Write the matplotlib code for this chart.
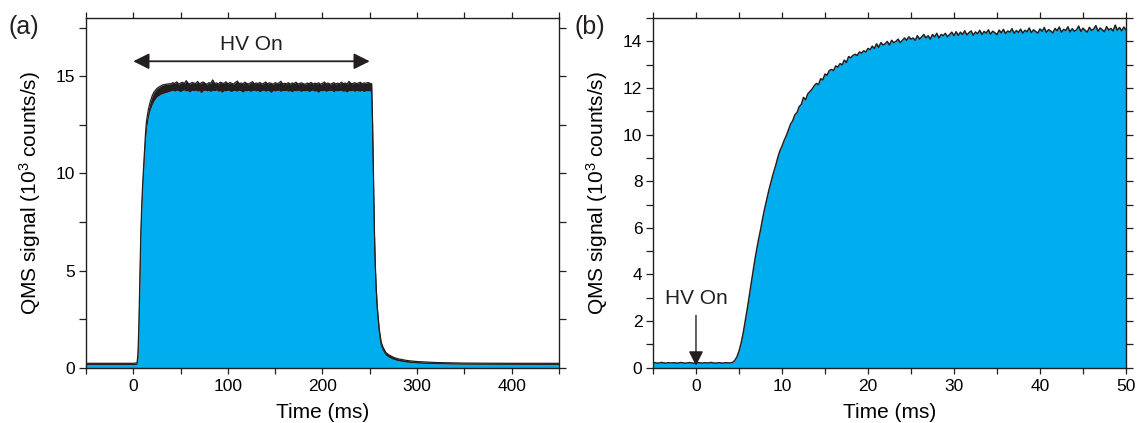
import numpy as np
import matplotlib
matplotlib.use("Agg")
import matplotlib.pyplot as plt
from matplotlib.ticker import MultipleLocator

plt.rcParams['font.family'] = ['Liberation Sans', 'DejaVu Sans']
plt.rcParams['mathtext.fontset'] = 'custom'
plt.rcParams['mathtext.rm'] = 'Liberation Sans'
plt.rcParams['mathtext.it'] = 'Liberation Sans:italic'

FILL = '#00AEEF'
INK = '#231F20'

# ---- (a) full HV pulse: lower / upper envelope of the noisy trace (10^3 counts/s)
# onset: baseline and rise (time in ms)
t_a_rise = [-50, -20, 0, 4, 5, 6, 7, 8, 9, 10, 11, 12, 13, 14, 16, 18, 20, 22, 25, 28, 31, 35, 38]
lo_a_rise = [0.16, 0.16, 0.16, 0.17, 0.55, 2.10, 4.40, 6.70, 8.20, 9.30, 10.20, 11.10, 11.80,
             12.35, 12.95, 13.30, 13.55, 13.75, 13.95, 14.05, 14.12, 14.18, 14.22]
hi_a_rise = [0.22, 0.22, 0.22, 0.24, 0.70, 2.30, 4.60, 6.90, 8.40, 9.50, 10.40, 11.35, 12.10,
             12.70, 13.30, 13.70, 14.00, 14.20, 14.38, 14.48, 14.56, 14.60, 14.62]
# HV on: plateau sampled every 2 ms from 40 ms
t0_a_plat = 40.0
dt_a_plat = 2.0
lo_a_plat = [14.26, 14.29, 14.24, 14.30, 14.27, 14.22, 14.28, 14.31, 14.25, 14.27,
             14.20, 14.29, 14.26, 14.30, 14.24, 14.28, 14.16, 14.27, 14.30, 14.25,
             14.28, 14.23, 14.29, 14.26, 14.31, 14.24, 14.27, 14.18, 14.28, 14.25,
             14.30, 14.26, 14.22, 14.29, 14.27, 14.24, 14.30, 14.26, 14.19, 14.28,
             14.25, 14.29, 14.23, 14.27, 14.30, 14.25, 14.28, 14.21, 14.27, 14.29,
             14.24, 14.28, 14.26, 14.17, 14.29, 14.25, 14.27, 14.30, 14.23, 14.28,
             14.26, 14.29, 14.24, 14.27, 14.20, 14.28, 14.25, 14.30, 14.26, 14.23,
             14.28, 14.25, 14.29, 14.22, 14.27, 14.30, 14.24, 14.26, 14.18, 14.28,
             14.25, 14.29, 14.23, 14.27, 14.26, 14.30, 14.21, 14.28, 14.25, 14.27,
             14.29, 14.24, 14.26, 14.19, 14.28, 14.25, 14.30, 14.23, 14.27, 14.26,
             14.24, 14.29, 14.22, 14.27, 14.25, 14.28]
hi_a_plat = [14.62, 14.68, 14.64, 14.72, 14.60, 14.66, 14.70, 14.63, 14.78, 14.65,
             14.61, 14.69, 14.66, 14.63, 14.74, 14.62, 14.67, 14.71, 14.64, 14.60,
             14.68, 14.65, 14.82, 14.63, 14.67, 14.61, 14.70, 14.66, 14.64, 14.72,
             14.62, 14.68, 14.65, 14.60, 14.69, 14.76, 14.63, 14.66, 14.62, 14.70,
             14.64, 14.61, 14.67, 14.73, 14.62, 14.66, 14.63, 14.69, 14.60, 14.65,
             14.71, 14.62, 14.67, 14.64, 14.60, 14.68, 14.63, 14.66, 14.75, 14.61,
             14.65, 14.62, 14.68, 14.60, 14.66, 14.63, 14.70, 14.61, 14.64, 14.67,
             14.62, 14.60, 14.66, 14.63, 14.69, 14.61, 14.65, 14.62, 14.67, 14.60,
             14.64, 14.71, 14.62, 14.66, 14.60, 14.63, 14.68, 14.61, 14.65, 14.62,
             14.70, 14.63, 14.66, 14.61, 14.74, 14.64, 14.62, 14.68, 14.63, 14.66,
             14.70, 14.62, 14.67, 14.64, 14.69, 14.65]
# HV off: fall and decay back to baseline
t_a_fall = [252, 253, 254, 255, 256, 257, 258, 260, 262, 264, 267, 270, 275, 280, 290,
            300, 320, 350, 400, 450]
lo_a_fall = [14.20, 12.30, 9.30, 6.60, 4.85, 3.70, 2.90, 1.80, 1.15, 0.90, 0.66, 0.55,
             0.43, 0.36, 0.28, 0.24, 0.20, 0.18, 0.17, 0.16]
hi_a_fall = [14.62, 12.60, 9.60, 6.90, 5.10, 3.95, 3.10, 2.00, 1.32, 1.05, 0.78, 0.66,
             0.53, 0.45, 0.36, 0.31, 0.26, 0.23, 0.22, 0.22]

# ---- (b) onset detail: trace sampled every 0.25 ms starting at -5 ms
t0_b = -5.0
dt_b = 0.25
sig_b_base = [0.20, 0.21, 0.19, 0.20, 0.22, 0.20, 0.19, 0.21, 0.20, 0.20,
              0.21, 0.19, 0.20, 0.22, 0.20, 0.19, 0.20, 0.21, 0.20, 0.19,
              0.20, 0.21, 0.20, 0.19, 0.21, 0.20, 0.20, 0.22, 0.20, 0.19,
              0.20, 0.21, 0.19, 0.20, 0.21, 0.20, 0.20, 0.22]
sig_b_rise = [0.30, 0.45, 0.70, 1.05, 1.50, 2.05, 2.60, 3.20, 3.80, 4.40,
              4.95, 5.45, 5.90, 6.40, 6.85, 7.25, 7.65, 8.00, 8.35, 8.65,
              9.00, 9.30, 9.50, 9.75, 9.95, 10.20, 10.45, 10.60, 10.85, 10.95,
              11.20, 11.30, 11.60, 11.50, 11.75, 11.85, 11.95, 12.10, 12.20, 12.15,
              12.40, 12.35, 12.60, 12.55, 12.75, 12.80, 12.75, 12.95, 12.90, 13.05,
              13.00, 13.20, 13.10, 13.35, 13.30, 13.40, 13.45, 13.40, 13.55, 13.50,
              13.60, 13.55, 13.70, 13.65, 13.80, 13.70, 13.90, 13.75, 13.95, 13.85,
              13.90, 14.00, 13.85, 14.05, 13.95, 14.00, 14.10, 13.95, 14.05, 14.15,
              14.05, 14.20, 14.10, 14.15, 14.05, 14.25, 14.10, 14.20, 14.30, 14.15,
              14.25, 14.10, 14.30, 14.20, 14.35, 14.15, 14.30, 14.25, 14.35, 14.20,
              14.30, 14.40, 14.25]
sig_b_plateau = [14.42, 14.26, 14.40, 14.30, 14.46, 14.28, 14.38, 14.45, 14.27, 14.41,
                 14.33, 14.48, 14.30, 14.43, 14.36, 14.50, 14.31, 14.44, 14.38, 14.29,
                 14.49, 14.37, 14.52, 14.34, 14.45, 14.40, 14.55, 14.35, 14.47, 14.39,
                 14.53, 14.36, 14.48, 14.42, 14.58, 14.38, 14.50, 14.43, 14.36, 14.54,
                 14.44, 14.60, 14.39, 14.51, 14.45, 14.37, 14.56, 14.46, 14.62, 14.40,
                 14.52, 14.47, 14.63, 14.41, 14.55, 14.44, 14.50, 14.66, 14.43, 14.57,
                 14.48, 14.40, 14.61, 14.47, 14.54, 14.68, 14.44, 14.58, 14.50, 14.42,
                 14.64, 14.49, 14.56, 14.45, 14.70, 14.48, 14.60, 14.46, 14.62, 14.50]

t_a = np.concatenate([t_a_rise,
                      t0_a_plat + dt_a_plat * np.arange(len(lo_a_plat)),
                      t_a_fall]).astype(float)
lo_a = np.array(lo_a_rise + lo_a_plat + lo_a_fall)
hi_a = np.array(hi_a_rise + hi_a_plat + hi_a_fall)

sig_b = np.array(sig_b_base + sig_b_rise + sig_b_plateau)
t_b = t0_b + dt_b * np.arange(len(sig_b))

fig = plt.figure(figsize=(11.37, 4.23), dpi=100)
ax_a = fig.add_axes([0.0756, 0.131, 0.4160, 0.826])
ax_b = fig.add_axes([0.5743, 0.131, 0.4160, 0.826])

TICK_FS = 12.5
LABEL_FS = 15


def style_axes(ax):
    ax.tick_params(which='both', direction='out', top=True, right=True,
                   labelsize=TICK_FS, color=INK, width=0.9)
    ax.tick_params(axis='x', which='both', length=4.2, pad=4.2)
    ax.tick_params(axis='y', which='both', length=5.0, pad=2.6)
    for s in ax.spines.values():
        s.set_linewidth(1.0)
        s.set_color(INK)
    ax.set_xlabel('Time (ms)', fontsize=LABEL_FS, labelpad=6.5)
    ax.set_ylabel('QMS signal (10$^{3}$ counts/s)', fontsize=LABEL_FS, labelpad=9.5)


# panel (a)
ax_a.fill_between(t_a, 0, lo_a, color=FILL, lw=0)
ax_a.fill_between(t_a, lo_a, hi_a, color=INK, lw=0)
ax_a.plot(t_a, hi_a, color=INK, lw=0.9)
ax_a.plot(t_a, lo_a, color=INK, lw=0.5)
ax_a.set_xlim(-50, 450)
ax_a.set_ylim(0, 18)
ax_a.xaxis.set_major_locator(MultipleLocator(100))
ax_a.xaxis.set_minor_locator(MultipleLocator(50))
ax_a.yaxis.set_major_locator(MultipleLocator(5))
ax_a.yaxis.set_minor_locator(MultipleLocator(2.5))
style_axes(ax_a)
ax_a.annotate('', xy=(0, 15.78), xytext=(250, 15.78),
              arrowprops=dict(arrowstyle='<|-|>', color=INK, lw=1.3,
                              mutation_scale=24, shrinkA=0, shrinkB=0))
ax_a.text(125, 16.37, 'HV On', ha='center', va='baseline', fontsize=15, color=INK)
fig.text(9 / 1137, 1 - 27 / 423, '(a)', fontsize=18, color=INK, va='center', ha='left')

# panel (b)
ax_b.fill_between(t_b, 0, sig_b, color=FILL, lw=0)
ax_b.plot(t_b, sig_b, color=INK, lw=1.1)
ax_b.set_xlim(-5, 50)
ax_b.set_ylim(0, 15)
ax_b.xaxis.set_major_locator(MultipleLocator(10))
ax_b.xaxis.set_minor_locator(MultipleLocator(5))
ax_b.yaxis.set_major_locator(MultipleLocator(2))
ax_b.yaxis.set_minor_locator(MultipleLocator(1))
style_axes(ax_b)
ax_b.annotate('', xy=(0, 0.08), xytext=(0, 2.24),
              arrowprops=dict(arrowstyle='-|>', color=INK, lw=1.0,
                              mutation_scale=22, shrinkA=0, shrinkB=0))
ax_b.text(0, 2.74, 'HV On', ha='center', va='baseline', fontsize=15, color=INK)
fig.text(574 / 1137, 1 - 27 / 423, '(b)', fontsize=18, color=INK, va='center', ha='left')

fig.savefig('out.png', dpi=100)
